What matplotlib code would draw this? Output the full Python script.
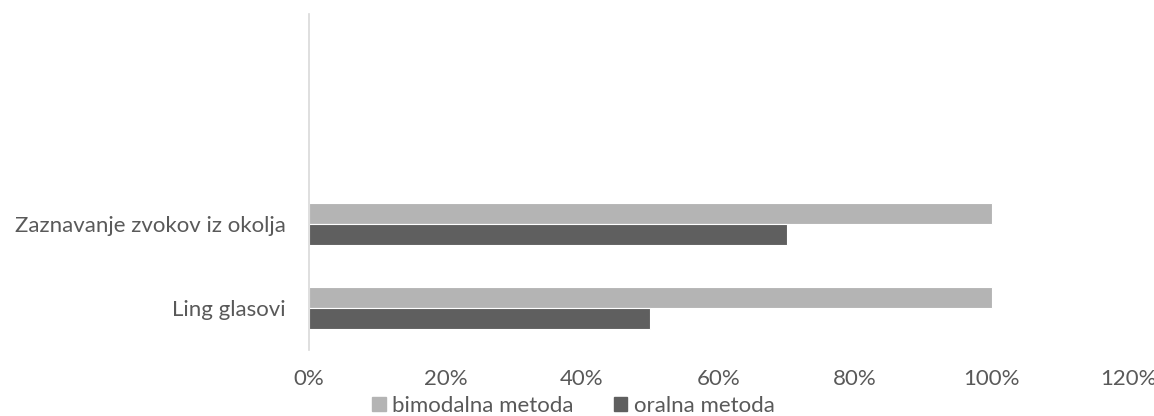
import matplotlib.pyplot as plt
from matplotlib.patches import Patch
from matplotlib.ticker import PercentFormatter
import numpy as np

categories = ["Ling glasovi", "Zaznavanje zvokov iz okolja"]
bimodalna = [1.0, 1.0]
oralna = [0.5, 0.7]
series_names = ["bimodalna metoda", "oralna metoda"]
xticks = [0, 0.2, 0.4, 0.6, 0.8, 1.0, 1.2]

light = "#b4b4b4"
dark = "#5f5f5f"
text_color = "#595959"

plt.rcParams["font.family"] = ["Lato", "DejaVu Sans"]

fig = plt.figure(figsize=(11.54, 4.16), dpi=100)
ax = fig.add_axes([0.2678, 0.1587, 0.9775 - 0.2678, 0.966 - 0.1587])

y = np.arange(len(categories))
h = 0.25
ax.barh(y + h / 2, bimodalna, height=h, color=light, edgecolor="white", linewidth=0.8)
ax.barh(y - h / 2, oralna, height=h, color=dark, edgecolor="white", linewidth=0.8)

ax.set_xlim(0, 1.2)
ax.set_ylim(-0.5, 3.5)
ax.set_xticks(xticks)
ax.xaxis.set_major_formatter(PercentFormatter(1.0, decimals=0))
ax.set_yticks(y)
ax.set_yticklabels(categories)
ax.tick_params(axis="both", length=0, labelsize=16, colors=text_color)
ax.tick_params(axis="x", pad=14)
ax.tick_params(axis="y", pad=17)

for side in ["top", "right", "bottom"]:
    ax.spines[side].set_visible(False)
ax.spines["left"].set_color("#d9d9d9")
ax.spines["left"].set_linewidth(1.2)

handles = [Patch(color=light), Patch(color=dark)]
fig.legend(handles, series_names, loc="lower center", bbox_to_anchor=(0.497, -0.026),
           ncol=2, frameon=False, fontsize=16, handlelength=0.6, handleheight=0.6,
           handletextpad=0.3, columnspacing=1.8, borderpad=0, labelcolor=text_color)

fig.savefig("out.png", dpi=100)
